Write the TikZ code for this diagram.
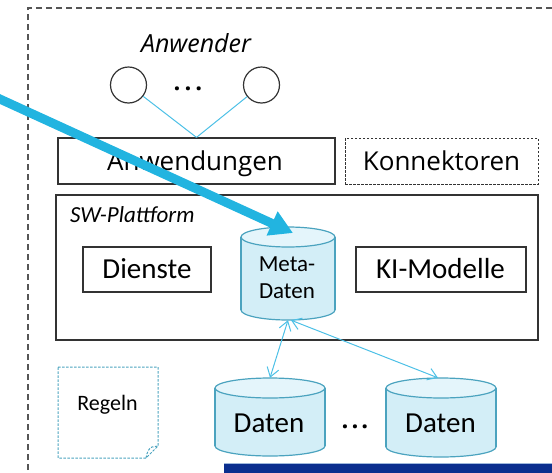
\documentclass[tikz,border=0pt]{standalone}
\usepackage{fontspec}
\setmainfont{Carlito}
\newfontfamily\opensans{Open Sans}
\usetikzlibrary{arrows.meta}

\definecolor{cylstroke}{HTML}{4BA3BF}
\definecolor{cylfill}{HTML}{D3EEF7}
\definecolor{cyltop}{HTML}{E4F5FB}
\definecolor{linkblue}{HTML}{4CC0E6}
\definecolor{bigblue}{HTML}{22B4E0}
\definecolor{framegray}{HTML}{555555}
\definecolor{boxgray}{HTML}{333333}
\definecolor{barblue}{HTML}{0B2E8E}
\definecolor{baredge}{HTML}{9FB8DC}

\tikzset{
  box/.style={draw=boxgray, line width=1.2pt, inner sep=0pt},
  dashbox/.style={draw=boxgray, line width=1pt, dash pattern=on 2.5pt off 1.5pt, inner sep=0pt},
  user/.style={circle, draw=boxgray, line width=1.2pt, minimum size=36pt, inner sep=0pt},
  hull/.style={inner sep=0pt},
  linkline/.style={draw=linkblue, line width=1pt},
  linkarrow/.style={linkblue, line width=1pt, {Straight Barb[length=9pt,width=12pt]}-{Straight Barb[length=9pt,width=12pt]}},
  bigarrow/.style={bigblue, line width=9pt, -{Triangle[length=23pt,width=25pt]}},
  cylbody/.style={fill=cylfill, draw=cylstroke, line width=1.2pt},
  cylcap/.style={fill=cyltop, draw=cylstroke, line width=1.2pt},
  lbl/.style={anchor=base, inner sep=0pt, text=black},
}

% cylinder: centre x, x radius, top y, bottom y, cap y radius (y grows downwards)
\newcommand\drumshape[5]{%
  \filldraw[cylbody] (#1,#4-#5) ellipse[x radius=#2pt, y radius=#5pt];
  \fill[cylfill] (#1-#2,#3+#5) rectangle (#1+#2,#4-#5);
  \draw[cylbody, fill=none] (#1-#2,#3+#5) -- (#1-#2,#4-#5) (#1+#2,#3+#5) -- (#1+#2,#4-#5);
  \filldraw[cylcap] (#1,#3+#5) ellipse[x radius=#2pt, y radius=#5pt];
}

\begin{document}
\begin{tikzpicture}[x=1pt, y=-1pt]
\useasboundingbox (0,0) rectangle (552,472);

% outer system frame
\draw[framegray, line width=1.3pt, dash pattern=on 6pt off 4pt] (28,480) -- (28,8) -- (560,8);

% users
\node[lbl, font=\opensans\itshape\fontsize{25}{25}\selectfont] (anwender) at (196,52) {Anwender};
\node[user] (u1) at (128.5,85) {};
\node[user] (u2) at (261.5,85) {};
\node[lbl, font=\opensans\bfseries\fontsize{24}{24}\selectfont] (udots) at (188,90) {.\hspace{4pt}.\hspace{4pt}.};

% applications and connectors
\node[box, minimum width=277pt, minimum height=46pt] (anw) at (196.5,161) {};
\node[lbl, font=\opensans\fontsize{26}{26}\selectfont] (anwtext) at (195,170) {Anwendungen};
\node[dashbox, minimum width=193pt, minimum height=46pt] (konn) at (441.5,161) {};
\node[lbl, font=\opensans\fontsize{26}{26}\selectfont] (konntext) at (441.5,170) {Konnektoren};

\draw[linkline] (u1) -- (anw.north);
\draw[linkline] (u2) -- (anw.north);

% software platform
\node[box, minimum width=482pt, minimum height=145pt] (swp) at (297,267.5) {};
\node[lbl, anchor=base west, font=\itshape\fontsize{23}{23}\selectfont] (swptext) at (70,222) {SW-Plattform};

\node[box, minimum width=128pt, minimum height=45pt] (dienste) at (147,269.5) {};
\node[lbl, font=\fontsize{29}{29}\selectfont] (diensttext) at (147,278) {Dienste};
\node[box, minimum width=170pt, minimum height=45pt] (ki) at (441,269.5) {};
\node[lbl, font=\fontsize{29}{29}\selectfont] (kitext) at (440.5,278) {KI-Modelle};

% metadata store
\drumshape{288}{47}{227}{320}{10}
\node[hull, minimum width=94pt, minimum height=93pt] (meta) at (288,273.5) {};
\node[inner sep=0pt, align=center, font=\fontsize{23}{27}\selectfont] (metatext) at (287,277.5) {Meta-\\Daten};

% data stores
\drumshape{270}{55}{378}{456}{10}
\node[hull, minimum width=110pt, minimum height=78pt] (daten1) at (270,417) {};
\node[lbl, font=\fontsize{29}{29}\selectfont] (daten1text) at (269,432) {Daten};
\drumshape{441}{55}{378}{457}{10}
\node[hull, minimum width=110pt, minimum height=79pt] (daten2) at (441,417.5) {};
\node[lbl, font=\fontsize{29}{29}\selectfont] (daten2text) at (440.5,432) {Daten};
\node[lbl, font=\opensans\bfseries\fontsize{24}{24}\selectfont] (ddots) at (355,428) {.\hspace{3pt}.\hspace{3pt}.};

\draw[linkarrow] (meta.south) -- (daten1.north);
\draw[linkarrow] ([xshift=3pt]meta.south) -- ([xshift=-3pt]daten2.north);

% rules note with folded corner
\coordinate (rA) at (58,367);
\coordinate (rB) at (158,367);
\coordinate (rC) at (158,446);
\coordinate (rD) at (146,458);
\coordinate (rE) at (58,458);
\draw[cylstroke, line width=1pt, dash pattern=on 2.5pt off 1.5pt]
  (rA) -- (rB) -- (rC) -- (rD) -- (rE) -- cycle;
\draw[cylstroke, line width=1pt, dash pattern=on 2.5pt off 1.5pt]
  (rD) .. controls (147,452) and (149,448) .. (152,447) -- (rC);
\node[lbl, font=\fontsize{22}{22}\selectfont] (regeln) at (107.5,410) {Regeln};

% incoming highlight arrow
\coordinate (bigstart) at (-10,94.5);
\coordinate (metain) at (293,233);
\draw[bigarrow] (bigstart) -- (metain);

% window bar along the bottom edge
\fill[barblue] (224,464) rectangle (560,480);
\draw[baredge] (224,463.5) -- (560,463.5);
\end{tikzpicture}
\end{document}
